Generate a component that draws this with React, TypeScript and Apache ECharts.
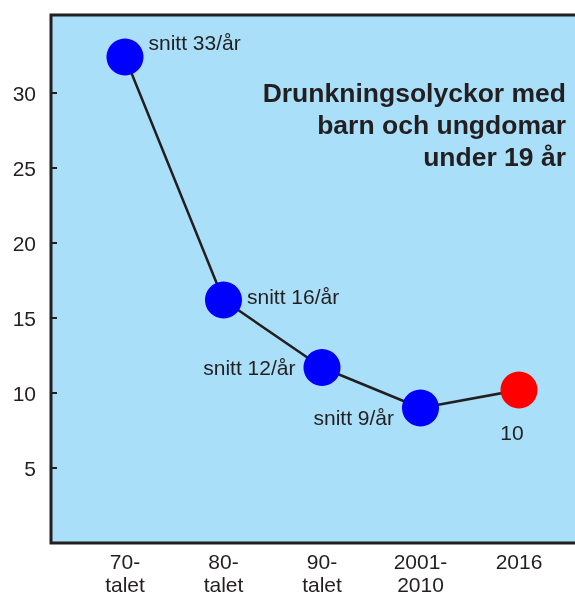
import React, { useEffect, useRef } from "react";
import * as echarts from "echarts";

const categories = ["70-\ntalet", "80-\ntalet", "90-\ntalet", "2001-\n2010", "2016"];
const values = [32.4, 16.2, 11.7, 9.0, 10.2];
const pointLabels = ["snitt 33/år", "snitt 16/år", "snitt 12/år", "snitt 9/år", "10"];
const pointColors = ["#0000fe", "#0000fe", "#0000fe", "#0000fe", "#fe0000"];
const yTicks = [5, 10, 15, 20, 25, 30];
const titleLines = ["Drunkningsolyckor med", "barn och ungdomar", "under 19 år"];

const labelPlacement: any[] = [
  { position: "right", offset: [0, -15] },
  { position: "right", offset: [0, -4] },
  { position: "left", offset: [-3, 0] },
  { position: "left", offset: [-3, 9] },
  { position: "bottom", offset: [-7, 8] },
];

export default function App() {
  const ref = useRef<HTMLDivElement>(null);
  useEffect(() => {
    if (!ref.current) return;
    const chart = echarts.init(ref.current, null, { renderer: "svg" });
    const textColor = "#231f20";
    const font = "Liberation Sans, Arial, sans-serif";
    chart.setOption({
      animation: false,
      grid: {
        left: 51,
        top: 15,
        bottom: 51,
        right: 15,
        show: true,
        outerBoundsMode: "none",
        containLabel: false,
        backgroundColor: "#a9dff9",
        borderColor: textColor,
        borderWidth: 3,
      },
      xAxis: {
        type: "value",
        min: -0.751,
        max: 4.67,
        axisLine: { show: false, onZero: false },
        axisTick: { show: false },
        splitLine: { show: false },
        axisLabel: {
          customValues: [0, 1, 2, 3, 4],
          formatter: (v: number) => {
            const lines = (categories[Math.round(v)] ?? "").split("\n");
            return lines
              .map((l, i) => (i === 0 ? `{a|${l}}` : `{b|${l}}`))
              .join("\n");
          },
          color: textColor,
          fontFamily: font,
          margin: 5,
          rich: {
            a: { fontSize: 21, lineHeight: 27, color: textColor, fontFamily: font },
            b: { fontSize: 21, lineHeight: 19, color: textColor, fontFamily: font },
          },
        },
      },
      yAxis: {
        type: "value",
        min: 0,
        max: 35.2,
        axisLine: { show: false, onZero: false },
        splitLine: { show: false },
        axisTick: {
          show: true,
          inside: true,
          length: 6,
          customValues: yTicks,
          lineStyle: { color: textColor, width: 2 },
        },
        axisLabel: {
          customValues: yTicks,
          color: textColor,
          fontSize: 21,
          fontFamily: font,
          margin: 15,
        },
      },
      series: [
        {
          type: "line",
          data: values.map((v, i) => ({
            value: [i, v],
            itemStyle: { color: pointColors[i] },
            label: {
              show: true,
              formatter: pointLabels[i],
              position: labelPlacement[i].position,
              offset: labelPlacement[i].offset,
              distance: 5,
              color: textColor,
              fontSize: 21,
              fontFamily: font,
            },
          })),
          symbol: "circle",
          symbolSize: 37,
          lineStyle: { color: textColor, width: 2.5 },
          itemStyle: { borderWidth: 0 },
        },
      ],
      graphic: titleLines.map((line, i) => ({
        type: "text",
        right: 34,
        top: 79 + i * 32,
        style: {
          text: line,
          fill: textColor,
          font: "bold 26.5px Liberation Sans, Arial, sans-serif",
        },
      })),
    });
    return () => chart.dispose();
  }, []);
  return (
    <div
      style={{
        position: "fixed",
        left: 0,
        top: 0,
        width: 575,
        height: 594,
        overflow: "hidden",
      }}
    >
      <div ref={ref} style={{ width: 600, height: 594 }} />
    </div>
  );
}
